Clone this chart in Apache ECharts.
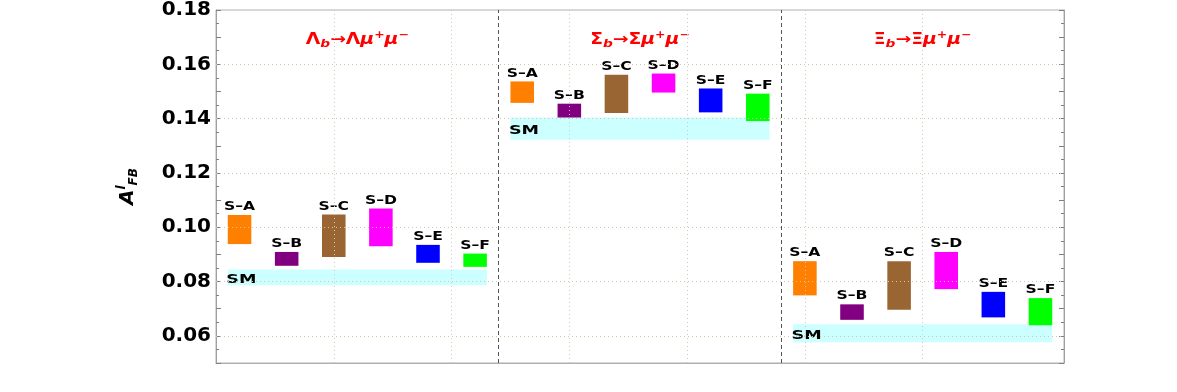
<!DOCTYPE html>
<html>
<head>
<meta charset="utf-8">
<script src="https://cdn.jsdelivr.net/npm/echarts@6/dist/echarts.min.js"></script>
<style>html,body{margin:0;padding:0;background:#fff}#c{width:1177px;height:392px}</style>
</head>
<body>
<div id="c"></div>
<script>
// ---- data ----
const categories = ['S–A', 'S–B', 'S–C', 'S–D', 'S–E', 'S–F'];
const panelTitles = [
  '{m|Λ}{sb|b}{m|→Λ}{mi|μ}{sp|+}{mi|μ}{sp|−}',
  '{m|Σ}{sb|b}{m|→Σ}{mi|μ}{sp|+}{mi|μ}{sp|−}',
  '{m|Ξ}{sb|b}{m|→Ξ}{mi|μ}{sp|+}{mi|μ}{sp|−}'
];
const lambdaLow  = [0.0938, 0.0858, 0.0890, 0.0930, 0.0869, 0.0854];
const lambdaHigh = [0.1045, 0.0909, 0.1047, 0.1069, 0.0935, 0.0903];
const lambdaSM   = [0.0786, 0.0844];
const sigmaLow   = [0.1458, 0.1404, 0.1421, 0.1496, 0.1423, 0.1391];
const sigmaHigh  = [0.1537, 0.1455, 0.1562, 0.1566, 0.1511, 0.1492];
const sigmaSM    = [0.1322, 0.1404];
const xiLow      = [0.0749, 0.0659, 0.0696, 0.0772, 0.0668, 0.0639];
const xiHigh     = [0.0875, 0.0716, 0.0875, 0.0909, 0.0762, 0.0739];
const xiSM       = [0.0576, 0.0643];
const yTickLabels = ['0.06', '0.08', '0.10', '0.12', '0.14', '0.16', '0.18'];
const xGridValues = [5, 10, 15, 20, 25, 30];
const smLabel = 'SM';

// ---- styles ----
const barColors = ['#ff8000', '#800080', '#996633', '#ff00ff', '#0000ff', '#00ff00'];
const smColor = '#ccffff';
const FONT = '"DejaVu Sans", sans-serif';

// ---- build ----
const panels = [
  { low: lambdaLow, high: lambdaHigh, sm: lambdaSM },
  { low: sigmaLow, high: sigmaHigh, sm: sigmaSM },
  { low: xiLow, high: xiHigh, sm: xiSM }
];
const PANEL_W = 12;
const barData = [];
const smData = [];
const titleData = [];
panels.forEach((p, pi) => {
  const base = pi * PANEL_W;
  categories.forEach((c, i) => {
    barData.push([base + 1 + 2 * i, p.low[i], p.high[i], i]);
  });
  smData.push([base + 0.5, base + PANEL_W - 0.5, p.sm[0], p.sm[1]]);
  titleData.push([base + PANEL_W / 2, pi]);
});

const chart = echarts.init(document.getElementById('c'));
const yAxisCommon = {
  type: 'value', min: 0.05, max: 0.18, interval: 0.01,
  axisLine: { show: true, lineStyle: { color: '#a0a0a0', width: 1 } },
  axisTick: { show: true, inside: true, length: 5, lineStyle: { color: '#808080' } },
  minorTick: { show: true, splitNumber: 2, length: 3, lineStyle: { color: '#808080' } },
  splitLine: { show: false }
};
chart.setOption({
  animation: false,
  grid: { left: 216, right: 113, top: 10, bottom: 29, show: true, borderColor: '#b0b0b0', borderWidth: 1 },
  xAxis: [{
    type: 'value', min: 0, max: 36, interval: 6,
    axisLine: { show: true, lineStyle: { color: '#b0b0b0' } },
    axisTick: { show: false }, axisLabel: { show: false },
    splitLine: { show: false }
  }],
  yAxis: [
    Object.assign({}, yAxisCommon, {
      position: 'left',
      axisLabel: {
        margin: 5, fontFamily: FONT, fontWeight: 'bold', fontSize: 20, color: '#000',
        formatter: v => (yTickLabels.indexOf(v.toFixed(2)) >= 0 ? v.toFixed(2) : '')
      },
      name: '{a|A}{sup|l}{sub|FB}',
      nameLocation: 'middle', nameRotate: 90, nameGap: 76,
      nameTextStyle: {
        rich: {
          a: { fontFamily: FONT, fontWeight: 'bold', fontStyle: 'italic', fontSize: 20, lineHeight: 24, color: '#000' },
          sup: { fontFamily: FONT, fontWeight: 'bold', fontStyle: 'italic', fontSize: 12, lineHeight: 12, verticalAlign: 'top', color: '#000' },
          sub: { fontFamily: FONT, fontWeight: 'bold', fontStyle: 'italic', fontSize: 12, lineHeight: 12, verticalAlign: 'bottom', color: '#000' }
        }
      }
    }),
    Object.assign({}, yAxisCommon, { position: 'right', axisLabel: { show: false } })
  ],
  series: [
    {
      type: 'line', data: [], z: 1, silent: true,
      markLine: {
        silent: true, symbol: 'none', label: { show: false },
        lineStyle: { color: '#d9c4a5', type: [1, 3], width: 1 },
        data: yTickLabels.slice(0, -1).map(t => ({ yAxis: parseFloat(t) }))
          .concat(xGridValues.map(v => ({ xAxis: v, lineStyle: { color: '#d0c8c0', type: [1, 3], width: 1 } })))
      }
    },
    {
      type: 'custom', z: 2, silent: true,
      data: smData,
      renderItem: function (params, api) {
        const tl = api.coord([api.value(0), api.value(3)]);
        const br = api.coord([api.value(1), api.value(2)]);
        return {
          type: 'group', children: [
            { type: 'rect', shape: { x: tl[0], y: tl[1], width: br[0] - tl[0], height: br[1] - tl[1] }, style: { fill: smColor } },
            { type: 'text', x: tl[0] - 1.5, y: (tl[1] + br[1]) / 2 + 2, scaleX: 1.35,
              style: { text: smLabel, align: 'left', verticalAlign: 'middle', fontFamily: FONT, fontWeight: 'bold', fontSize: 13, fill: '#000' } }
          ]
        };
      },
      markLine: {
        silent: true, symbol: 'none', label: { show: false },
        lineStyle: { color: '#555555', type: [4, 3], width: 1 },
        data: [{ xAxis: PANEL_W }, { xAxis: 2 * PANEL_W }]
      }
    },
    {
      type: 'custom', z: 3, silent: true,
      data: barData,
      renderItem: function (params, api) {
        const x = api.value(0), lo = api.value(1), hi = api.value(2), idx = api.value(3);
        const tl = api.coord([x - 0.5, hi]);
        const br = api.coord([x + 0.5, lo]);
        return {
          type: 'group', children: [
            { type: 'rect', shape: { x: tl[0], y: tl[1], width: br[0] - tl[0], height: br[1] - tl[1] }, style: { fill: barColors[idx] } },
            { type: 'text', x: (tl[0] + br[0]) / 2, y: tl[1] - 2, scaleX: 1.3,
              style: { text: categories[idx], align: 'center', verticalAlign: 'bottom', fontFamily: FONT, fontWeight: 'bold', fontSize: 12, fill: '#000' } }
          ]
        };
      }
    },
    {
      type: 'custom', z: 4, silent: true,
      data: titleData,
      renderItem: function (params, api) {
        const pos = api.coord([api.value(0), 0.18]);
        const idx = api.value(1);
        const base = { fontFamily: FONT, fontWeight: 'bold', fill: '#ff0000', color: '#ff0000' };
        return {
          type: 'text', x: pos[0], y: pos[1] + 30, scaleX: 1.25,
          style: {
            text: panelTitles[idx], align: 'center', verticalAlign: 'middle',
            rich: {
              m: Object.assign({ fontSize: 15, lineHeight: 19 }, base),
              mi: Object.assign({ fontSize: 15, lineHeight: 19, fontStyle: 'italic' }, base),
              sb: Object.assign({ fontSize: 11, lineHeight: 11, fontStyle: 'italic', verticalAlign: 'bottom' }, base),
              sp: Object.assign({ fontSize: 10, lineHeight: 10, verticalAlign: 'top' }, base)
            }
          }
        };
      }
    }
  ]
});
</script>
</body>
</html>
